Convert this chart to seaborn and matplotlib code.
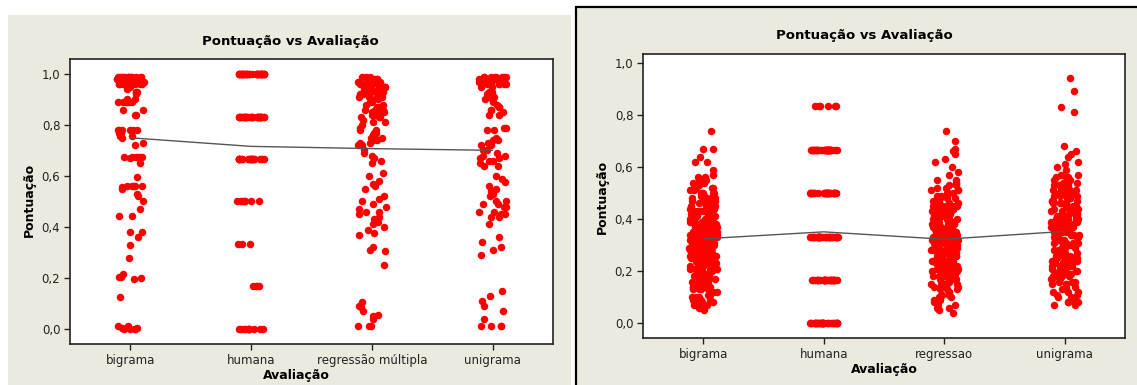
import numpy as np
import pandas as pd
import matplotlib
matplotlib.use("Agg")
import matplotlib.pyplot as plt
from matplotlib.patches import Rectangle
import seaborn as sns

# ---- data ----
title = 'Pontuação vs Avaliação'
xlabel = 'Avaliação'
ylabel = 'Pontuação'

left_order = ['bigrama', 'humana', 'regressão múltipla', 'unigrama']
right_order = ['bigrama', 'humana', 'regressao', 'unigrama']

yticks = [0.0, 0.2, 0.4, 0.6, 0.8, 1.0]
ytick_labels = ['0,0', '0,2', '0,4', '0,6', '0,8', '1,0']

left_bigrama = [
    0.99, 0.99, 0.99, 0.99, 0.99, 0.99, 0.99, 0.99, 0.99, 0.99, 0.98, 0.98, 0.98, 0.98, 0.98,
    0.98, 0.98, 0.98, 0.98, 0.98, 0.98, 0.98, 0.97, 0.97, 0.97, 0.97, 0.97, 0.97, 0.97, 0.97,
    0.97, 0.97, 0.96, 0.96, 0.96, 0.96, 0.96, 0.96, 0.96, 0.96, 0.99, 0.98, 0.97, 0.96, 0.99,
    0.98, 0.97, 0.99, 0.98, 0.97, 0.99, 0.98, 0.97, 0.96, 0.95,
    0.94, 0.93, 0.93, 0.93, 0.92, 0.90, 0.90, 0.89, 0.89, 0.89, 0.89, 0.89, 0.89, 0.86, 0.86,
    0.84, 0.84, 0.78, 0.78, 0.78, 0.78, 0.78, 0.78, 0.77, 0.77, 0.755, 0.755, 0.75, 0.73, 0.72,
    0.675, 0.675, 0.675, 0.675, 0.675, 0.675, 0.67, 0.65, 0.595, 0.56, 0.56, 0.56, 0.56, 0.56,
    0.555, 0.55, 0.53, 0.52, 0.50, 0.47, 0.445, 0.445, 0.38, 0.38, 0.36, 0.33, 0.28, 0.215,
    0.205, 0.205, 0.2, 0.195, 0.125, 0.01, 0.01, 0.005, 0.005, 0.0, 0.0, 0.0, 0.0,
]
left_humana = ([1.0] * 36 + [0.833] * 30 + [0.667] * 20 + [0.5] * 7 + [0.333] * 3
               + [0.167] * 4 + [0.0] * 11)
left_regressao = [
    0.99, 0.99, 0.98, 0.98, 0.98, 0.97, 0.97, 0.97, 0.96, 0.96, 0.96, 0.95, 0.95, 0.95, 0.94,
    0.94, 0.93, 0.93, 0.93, 0.92, 0.92, 0.91, 0.91, 0.91, 0.99, 0.98, 0.97, 0.97, 0.96, 0.96,
    0.95, 0.95, 0.94, 0.94, 0.93, 0.93, 0.92, 0.92, 0.91,
    0.90, 0.90, 0.89, 0.89, 0.88, 0.88, 0.87, 0.87, 0.86, 0.86, 0.85, 0.85, 0.84, 0.84, 0.83,
    0.83, 0.82, 0.81, 0.80, 0.79, 0.86, 0.85, 0.84, 0.83, 0.81,
    0.78, 0.78, 0.77, 0.77, 0.76, 0.76, 0.75, 0.75, 0.74, 0.74, 0.73, 0.73, 0.72, 0.72, 0.72,
    0.70, 0.69, 0.68, 0.67, 0.66, 0.65, 0.61, 0.60, 0.58, 0.57, 0.56, 0.55,
    0.52, 0.51, 0.50, 0.49, 0.48, 0.47, 0.46, 0.46, 0.45, 0.44, 0.43, 0.42, 0.41, 0.40, 0.39,
    0.375, 0.37, 0.32, 0.31, 0.305, 0.25,
    0.105, 0.09, 0.085, 0.07, 0.055, 0.05, 0.04, 0.01, 0.01, 0.01,
]
left_unigrama = [
    0.99, 0.99, 0.99, 0.99, 0.99, 0.99, 0.99, 0.99, 0.98, 0.98, 0.98, 0.98, 0.98, 0.98, 0.98,
    0.98, 0.98, 0.97, 0.97, 0.97, 0.97, 0.97, 0.97, 0.97, 0.97, 0.96, 0.96, 0.96, 0.96, 0.96,
    0.96, 0.96, 0.96, 0.95, 0.95,
    0.93, 0.93, 0.92, 0.91, 0.90, 0.90, 0.89, 0.88, 0.87, 0.87, 0.86, 0.86, 0.85, 0.84, 0.84,
    0.79, 0.79, 0.78, 0.78, 0.75, 0.74, 0.74, 0.73, 0.72, 0.72,
    0.70, 0.70, 0.69, 0.68, 0.68, 0.67, 0.67, 0.66, 0.66, 0.65, 0.64, 0.64,
    0.60, 0.59, 0.575, 0.56, 0.55, 0.54, 0.53, 0.52, 0.50, 0.50, 0.49, 0.49, 0.48, 0.48,
    0.46, 0.46, 0.45, 0.45, 0.44, 0.44, 0.41, 0.36, 0.34, 0.32, 0.31, 0.29,
    0.15, 0.13, 0.11, 0.09, 0.07, 0.04, 0.01, 0.01, 0.01, 0.01,
]

right_bigrama = [
    0.74, 0.67, 0.67, 0.64, 0.62, 0.62, 0.59, 0.57, 0.56, 0.56,
    0.55, 0.55, 0.54, 0.54, 0.53, 0.53, 0.53, 0.52, 0.52, 0.52, 0.51, 0.51, 0.50, 0.50, 0.50, 0.50,
    0.49, 0.49, 0.49, 0.48, 0.48, 0.48, 0.47, 0.47, 0.47, 0.47, 0.46, 0.46, 0.46, 0.45, 0.45, 0.45,
    0.45, 0.44, 0.44, 0.44, 0.43, 0.43, 0.43, 0.43, 0.42, 0.42, 0.42, 0.42, 0.41, 0.41, 0.41, 0.41,
    0.40, 0.40, 0.40, 0.40, 0.39, 0.39, 0.39, 0.39, 0.38, 0.38, 0.38, 0.38, 0.38, 0.37, 0.37, 0.37,
    0.37, 0.36, 0.36, 0.36, 0.36, 0.36, 0.35, 0.35, 0.35, 0.35, 0.35, 0.34, 0.34, 0.34, 0.34, 0.34,
    0.33, 0.33, 0.33, 0.33, 0.33, 0.33, 0.32, 0.32, 0.32, 0.32, 0.32, 0.31, 0.31, 0.31, 0.31, 0.31,
    0.30, 0.30, 0.30, 0.30, 0.30, 0.29, 0.29, 0.29, 0.29, 0.29, 0.28, 0.28, 0.28, 0.28, 0.27, 0.27,
    0.27, 0.27, 0.27, 0.26, 0.26, 0.26, 0.26, 0.25, 0.25, 0.25, 0.25, 0.24, 0.24, 0.24, 0.24, 0.23,
    0.23, 0.23, 0.23, 0.22, 0.22, 0.22, 0.21, 0.21, 0.21, 0.20, 0.20, 0.20, 0.20, 0.19, 0.19, 0.19,
    0.18, 0.18, 0.18, 0.17, 0.17, 0.17, 0.16, 0.16, 0.15, 0.15, 0.15, 0.14, 0.14, 0.13, 0.13, 0.13,
    0.12, 0.12, 0.11, 0.11, 0.10, 0.10, 0.10, 0.09, 0.09, 0.09, 0.08, 0.08, 0.08, 0.07, 0.07, 0.06,
    0.06, 0.05,
    0.12, 0.14, 0.16, 0.17, 0.18, 0.19, 0.20, 0.21, 0.22, 0.23, 0.24, 0.25, 0.26, 0.27, 0.28,
    0.29, 0.30, 0.31, 0.32, 0.33, 0.34, 0.35, 0.36, 0.37, 0.38, 0.39, 0.40, 0.41, 0.42, 0.43,
    0.44, 0.46, 0.48, 0.50, 0.52, 0.13, 0.15, 0.19, 0.22, 0.25, 0.27, 0.29, 0.31, 0.33, 0.35,
    0.37, 0.39, 0.41, 0.43, 0.45, 0.21, 0.24, 0.28, 0.30, 0.32, 0.34, 0.36, 0.38, 0.26, 0.31,
]
right_humana = ([0.833] * 6 + [0.667] * 35 + [0.5] * 30 + [0.333] * 35 + [0.167] * 30
                + [0.0] * 35)
right_regressao = [
    0.74, 0.70, 0.67, 0.66, 0.65, 0.63, 0.62, 0.60, 0.58, 0.57,
    0.55, 0.55, 0.54, 0.54, 0.53, 0.53, 0.52, 0.52, 0.51, 0.51, 0.50, 0.50, 0.50,
    0.49, 0.49, 0.48, 0.48, 0.48, 0.47, 0.47, 0.47, 0.46, 0.46, 0.46, 0.45, 0.45, 0.45, 0.45,
    0.44, 0.44, 0.44, 0.43, 0.43, 0.43, 0.43, 0.42, 0.42, 0.42, 0.41, 0.41, 0.41, 0.41, 0.40,
    0.40, 0.40, 0.40, 0.39, 0.39, 0.39, 0.39, 0.38, 0.38, 0.38, 0.38, 0.37, 0.37, 0.37, 0.37,
    0.37, 0.36, 0.36, 0.36, 0.36, 0.35, 0.35, 0.35, 0.35, 0.35, 0.34, 0.34, 0.34, 0.34, 0.34,
    0.33, 0.33, 0.33, 0.33, 0.33, 0.33, 0.32, 0.32, 0.32, 0.32, 0.32, 0.32, 0.31, 0.31, 0.31,
    0.31, 0.31, 0.30, 0.30, 0.30, 0.30, 0.30, 0.29, 0.29, 0.29, 0.29, 0.29, 0.28, 0.28, 0.28,
    0.28, 0.28, 0.27, 0.27, 0.27, 0.27, 0.26, 0.26, 0.26, 0.26, 0.26, 0.25, 0.25, 0.25, 0.25,
    0.24, 0.24, 0.24, 0.24, 0.23, 0.23, 0.23, 0.23, 0.22, 0.22, 0.22, 0.22, 0.21, 0.21, 0.21,
    0.20, 0.20, 0.20, 0.20, 0.19, 0.19, 0.19, 0.18, 0.18, 0.18, 0.17, 0.17, 0.17, 0.16, 0.16,
    0.15, 0.15, 0.15, 0.14, 0.14, 0.13, 0.13, 0.12, 0.12, 0.11, 0.11, 0.10, 0.10, 0.09, 0.09,
    0.08, 0.08, 0.07, 0.07, 0.06, 0.06, 0.05, 0.04,
    0.11, 0.13, 0.15, 0.16, 0.18, 0.19, 0.20, 0.21, 0.22, 0.23, 0.24, 0.25, 0.26, 0.27, 0.28,
    0.29, 0.30, 0.31, 0.32, 0.33, 0.34, 0.35, 0.36, 0.37, 0.38, 0.39, 0.40, 0.41, 0.42, 0.43,
    0.44, 0.45, 0.47, 0.49, 0.51, 0.14, 0.17, 0.20, 0.23, 0.26, 0.28, 0.30, 0.32, 0.34, 0.36,
    0.38, 0.40, 0.42, 0.44, 0.46, 0.22, 0.25, 0.27, 0.29, 0.31, 0.33, 0.35, 0.37, 0.24, 0.30,
]
right_unigrama = [
    0.94, 0.89, 0.83, 0.81, 0.68, 0.66, 0.65, 0.64, 0.62, 0.61, 0.60, 0.59,
    0.57, 0.57, 0.56, 0.56, 0.56, 0.55, 0.55, 0.55, 0.54, 0.54, 0.53, 0.53, 0.53, 0.52, 0.52,
    0.51, 0.51, 0.51, 0.50, 0.50, 0.50, 0.49, 0.49, 0.49, 0.48, 0.48, 0.48, 0.47, 0.47, 0.47,
    0.47, 0.46, 0.46, 0.46, 0.45, 0.45, 0.45, 0.45, 0.44, 0.44, 0.44, 0.43, 0.43, 0.43, 0.43,
    0.42, 0.42, 0.42, 0.42, 0.41, 0.41, 0.41, 0.41, 0.40, 0.40, 0.40, 0.40, 0.39, 0.39, 0.39,
    0.39, 0.38, 0.38, 0.38, 0.38, 0.37, 0.37, 0.37, 0.37, 0.36, 0.36, 0.36, 0.36, 0.35, 0.35,
    0.35, 0.35, 0.34, 0.34, 0.34, 0.34, 0.33, 0.33, 0.33, 0.33, 0.32, 0.32, 0.32, 0.31, 0.31,
    0.31, 0.30, 0.30, 0.30, 0.29, 0.29, 0.29, 0.28, 0.28, 0.28, 0.27, 0.27, 0.26, 0.26, 0.25,
    0.25, 0.24, 0.24, 0.23, 0.23, 0.22, 0.22, 0.21, 0.21, 0.20, 0.20, 0.19, 0.19, 0.18, 0.18,
    0.17, 0.17, 0.16, 0.15, 0.15, 0.14, 0.13, 0.13, 0.12, 0.11, 0.10, 0.09, 0.09, 0.08, 0.08,
    0.07, 0.07,
    0.08, 0.10, 0.11, 0.12, 0.14, 0.15, 0.16, 0.17, 0.18, 0.19, 0.20, 0.21, 0.22, 0.23, 0.24,
    0.25, 0.26, 0.27, 0.28, 0.29, 0.30, 0.31, 0.32, 0.33, 0.34, 0.35, 0.36, 0.37, 0.38, 0.39,
    0.40, 0.42, 0.44, 0.46, 0.48, 0.12, 0.16, 0.20, 0.24, 0.28, 0.32, 0.36, 0.40, 0.22, 0.26,
    0.30, 0.34, 0.18, 0.25, 0.31,
]

left_data = {'bigrama': left_bigrama, 'humana': left_humana,
             'regressão múltipla': left_regressao, 'unigrama': left_unigrama}
right_data = {'bigrama': right_bigrama, 'humana': right_humana,
              'regressao': right_regressao, 'unigrama': right_unigrama}


def to_frame(d):
    rows = [(k, v) for k, vals in d.items() for v in vals]
    return pd.DataFrame(rows, columns=['Avaliacao', 'Pontuacao'])


sns.set_theme(style='white')
plt.rcParams['font.family'] = ['DejaVu Sans']
np.random.seed(3)

W, H = 1137, 385
fig = plt.figure(figsize=(W / 100, H / 100), dpi=100)
fig.patch.set_facecolor('white')

beige = '#ECE9DF'
# panel backgrounds, drawn under the axes
fig.patches.append(Rectangle((8 / W, 0), (571 - 8) / W, (H - 15) / H,
                             transform=fig.transFigure, facecolor=beige,
                             edgecolor='none', zorder=-2))
fig.patches.append(Rectangle((576 / W, -0.01), (W - 576 + 5) / W, (H - 7) / H + 0.01,
                             transform=fig.transFigure, facecolor=beige,
                             edgecolor='black', linewidth=1.6, zorder=-2))


def panel(rect, df, order, ylim, title_xy, xlab_xy, ylab_xy):
    ax = fig.add_axes(rect)
    ax.set_facecolor('white')
    sns.stripplot(data=df, x='Avaliacao', y='Pontuacao', order=order, color='#FF0000',
                  size=5.4, linewidth=0, jitter=0.115, ax=ax, zorder=2)
    sns.pointplot(data=df, x='Avaliacao', y='Pontuacao', order=order, errorbar=None,
                  color='#555555', linewidth=1, markersize=0, markeredgewidth=0, ax=ax)
    ax.set_xlim(-0.5, 3.5)
    ax.set_ylim(*ylim)
    ax.set_yticks(yticks)
    ax.set_yticklabels(ytick_labels)
    ax.set_xlabel('')
    ax.set_ylabel('')
    for s in ax.spines.values():
        s.set_color('#222222')
        s.set_linewidth(1.2)
    ax.tick_params(axis='both', which='both', direction='out', length=4, width=1,
                   color='#222222', labelsize=8.5, labelcolor='#222222',
                   left=True, bottom=True, pad=3)
    fig.text(title_xy[0] / W, 1 - title_xy[1] / H, title, ha='center', va='center',
             fontsize=9.5, fontweight='bold', color='black')
    fig.text(xlab_xy[0] / W, 1 - xlab_xy[1] / H, xlabel, ha='center', va='center',
             fontsize=9, fontweight='bold', color='black')
    fig.text(ylab_xy[0] / W, 1 - ylab_xy[1] / H, ylabel, ha='center', va='center',
             rotation=90, fontsize=9, fontweight='bold', color='black')
    return ax


panel([70 / W, (H - 344) / H, 483 / W, 285 / H], to_frame(left_data), left_order,
      (-0.0588, 1.0588), (290, 41), (296, 375), (29, 200))
panel([643 / W, (H - 338) / H, 482 / W, 284 / H], to_frame(right_data), right_order,
      (-0.0568, 1.034), (864, 35), (884, 369), (602, 197))

fig.savefig('out.png', dpi=100, facecolor=fig.get_facecolor())
